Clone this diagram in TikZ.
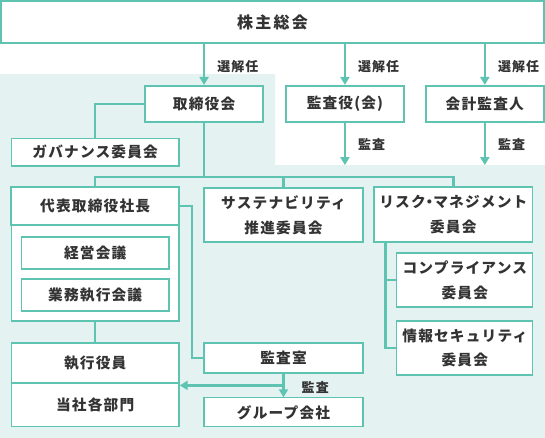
\documentclass[tikz,border=0pt]{standalone}
\usepackage{fontspec}
\setmainfont{Noto Sans CJK JP}[LetterSpace=8]
\definecolor{OrgTeal}{HTML}{5EC4B1}
\definecolor{OrgShade}{HTML}{E5F2F2}
\definecolor{OrgText}{HTML}{333333}
\usetikzlibrary{arrows.meta,positioning,calc}

\begin{document}
\begin{tikzpicture}[x=1pt, y=-1pt, every node/.style={font=\fontsize{14.7}{25}\selectfont\bfseries, text=OrgText, align=center, inner sep=0pt}, orgmain/.style={draw=OrgTeal, line width=2.5pt, fill=white}, orgbox/.style={draw=OrgTeal, line width=1.2pt, fill=white}, link/.style={draw=OrgTeal, line width=2.5pt}, linkarrow/.style={link, -{Triangle[length=8pt, width=9pt]}}, note/.style={font=\fontsize{13}{16}\selectfont\bfseries, anchor=west}]
        % background
        \fill[white] (0,0) rectangle (545,438);
        \fill[OrgShade] (0,74) -- (275,74) -- (275,165) -- (545,165) -- (545,438) -- (0,438) -- cycle;
        % top level
        \node[orgmain, minimum width=543pt, minimum height=42pt, font=\fontsize{16}{20}\selectfont\bfseries\addfontfeature{LetterSpace=14}] (meeting) at (272.5,22) {株主総会};
        \node[orgmain, minimum width=118pt, minimum height=36pt] (board) at (204,104) {取締役会};
        \node[orgmain, minimum width=118pt, minimum height=36pt] (auditors) at (345,104) {監査役(会)};
        \node[orgmain, minimum width=118pt, minimum height=36pt] (accountant) at (485,104) {会計監査人};
        \node[orgbox, minimum width=168pt, minimum height=28pt] (governance) at (95,152) {ガバナンス委員会};
        % execution side
        \node[orgbox, minimum width=168pt, minimum height=96pt] (execgroup) at (95,273) {};
        \node[orgmain, minimum width=168pt, minimum height=38pt] (president) at (95,206) {代表取締役社長};
        \node[orgbox, minimum width=148pt, minimum height=32pt] (management) at (95,253) {経営会議};
        \node[orgbox, minimum width=148pt, minimum height=32pt] (operations) at (95,295) {業務執行会議};
        \node[orgbox, minimum width=168pt, minimum height=40pt] (officers) at (95,363) {執行役員};
        \node[orgbox, minimum width=168pt, minimum height=44pt] (divisions) at (95,405) {当社各部門};
        % committees
        \node[orgbox, minimum width=159pt, minimum height=54pt] (sustain) at (283.5,215) {サステナビリティ\\推進委員会};
        \node[orgbox, minimum width=159pt, minimum height=55pt] (risk) at (453.5,214.5) {リスク\kern-3.5pt・\kern-3.5pt マネジメント\\委員会};
        \node[orgbox, minimum width=136pt, minimum height=54pt] (compliance) at (465,280) {コンプライアンス\\委員会};
        \node[orgbox, minimum width=136pt, minimum height=54pt] (infosec) at (465,348) {情報セキュリティ\\委員会};
        % audit
        \node[orgbox, minimum width=159pt, minimum height=30pt] (auditoffice) at (283.5,358) {監査室};
        \node[orgbox, minimum width=159pt, minimum height=29pt] (groupco) at (283.5,412.5) {グループ会社};
        \coordinate (bus) at (0,177);
        \coordinate (shadeedge) at (0,165);
        \coordinate (auditroute) at (192,0);
        \coordinate (auditfork) at ($(auditoffice.south)!0.5!(groupco.north)$);
        % election arrows
        \draw[linkarrow] (meeting.south -| board.north) -- node[note, xshift=12pt, yshift=-2pt] {選解任} (board.north);
        \draw[linkarrow] (meeting.south -| auditors.north) -- node[note, xshift=12pt, yshift=-2pt] {選解任} (auditors.north);
        \draw[linkarrow] (meeting.south -| accountant.north) -- node[note, xshift=12pt, yshift=-2pt] {選解任} (accountant.north);
        \draw[linkarrow] (auditors.south) -- node[note, xshift=12pt] {監査} (auditors.south |- shadeedge);
        \draw[linkarrow] (accountant.south) -- node[note, xshift=12pt] {監査} (accountant.south |- shadeedge);
        % board links
        \draw[link] (board.west) -| (governance.north);
        \draw[link] (board.south) -- (board.south |- bus);
        \draw[link] (president.north) -- (president.north |- bus) -- (risk.north |- bus) -- (risk.north);
        \draw[link] (sustain.north) -- (sustain.north |- bus);
        \draw[link] ([xshift=12pt]risk.south west) |- (compliance.west);
        \draw[link] ([xshift=12pt]risk.south west) |- (infosec.west);
        % execution links
        \draw[link] (execgroup.south) -- (officers.north);
        \draw[link] (president.east) -- (president.east -| auditroute) |- (auditoffice.west);
        \draw[linkarrow] (auditoffice.south) -- node[note, xshift=17pt, yshift=-2pt] {監査} (groupco.north);
        \draw[linkarrow] (auditfork) -- (auditfork -| divisions.east);
        \draw[orgbox, fill=none] (officers.south west) -- (officers.south east);
    \end{tikzpicture}
\end{document}
